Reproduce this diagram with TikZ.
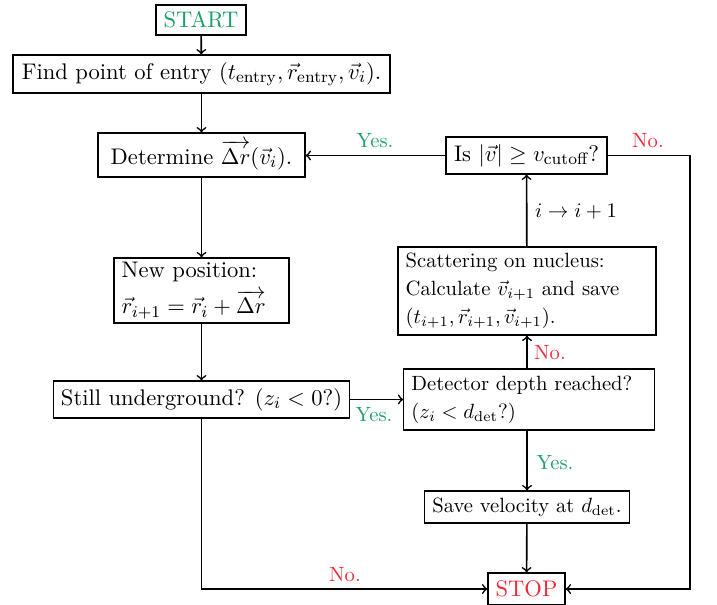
\documentclass[tikz,border=0pt]{standalone}
\usepackage{amsmath}
\definecolor{yesgreen}{RGB}{28,160,100}
\definecolor{nored}{RGB}{240,40,55}
\begin{document}
\begin{tikzpicture}[x=0.485pt,y=-0.485pt,
  every node/.style={font={\fontsize{10.95pt}{13.6pt}\selectfont}},
  small/.style={font={\fontsize{10pt}{13.6pt}\selectfont}},
  box/.style={draw,semithick,inner xsep=3.7pt,inner ysep=2pt},
  multibox/.style={box,align=left},
  arr/.style={->,thick},
  yeslbl/.style={text=yesgreen,font={\fontsize{10pt}{12pt}\selectfont},inner sep=1pt},
  nolbl/.style={text=nored,font={\fontsize{10pt}{12pt}\selectfont},inner sep=1pt}]
\useasboundingbox (0,0) rectangle (717,605);
\node[box,text=yesgreen,minimum width=42.7pt,minimum height=14.6pt] (start) at (201,20) {START};
\node[box,minimum width=182.8pt,minimum height=18.4pt] (find) at (201.5,74) {Find point of entry $(t_{\text{entry}},\vec{r}_{\text{entry}},\vec{v}_i)$.};
\node[box,minimum width=100.4pt,minimum height=21.3pt] (det) at (201.5,155) {Determine $\overrightarrow{\Delta r}(\vec{v}_i)$.};
\node[box,minimum width=78.1pt,minimum height=17.9pt] (is) at (526.5,155.5) {Is $|\vec{v}|\geq v_{\text{cutoff}}$?};
\node[multibox,small,text width=117.7pt,minimum height=42.7pt] (scat) at (527,291) {Scattering on nucleus:\\ Calculate $\vec{v}_{i+1}$ and save\\ $(t_{i+1},\vec{r}_{i+1},\vec{v}_{i+1})$.};
\node[multibox,text width=77.5pt,minimum height=31.5pt] (new) at (201.5,290.5) {New position:\\[3pt] $\vec{r}_{i+1}=\vec{r}_i+\overrightarrow{\Delta r}$};
\node[box,minimum width=143.1pt,minimum height=17.9pt] (still) at (201.5,399.5) {Still underground? $(z_i<0?)$};
\node[multibox,small,text width=114pt,minimum height=29.6pt] (detr) at (529,399.5) {Detector depth reached?\\ $(z_i<d_{\text{det}}?)$};
\node[box,small,minimum width=99.4pt,minimum height=15.5pt] (save) at (527,507) {Save velocity at $d_{\text{det}}$.};
\node[box,text=nored,minimum width=37.3pt,minimum height=15.5pt] (stop) at (526.5,589) {STOP};
\coordinate (rc) at (690,155.5);

\draw[arr] (start) -- (find);
\draw[arr] (find) -- (det);
\draw[arr] (det) -- (new);
\draw[arr] (new) -- (still);
\draw[arr] (still) -- (still -| detr.west);
\draw[arr] (detr.north -| scat.south) -- (scat.south);
\draw[arr] (scat) -- (is);
\draw[arr] (is.west) -- (is.west -| det.east);
\draw[arr] (detr.south -| save.north) -- (save.north);
\draw[arr] (save) -- (stop);
\draw[arr] (still.south) |- (stop.west);
\draw[arr] (is.east) -- (rc) |- (stop.east);

\node[yeslbl] (l1) at (375,141) {Yes.};
\node[nolbl] (l2) at (648,141) {No.};
\node[small,inner sep=1pt] (l3) at (576,212) {$i\rightarrow i+1$};
\node[nolbl] (l4) at (550,353) {No.};
\node[yeslbl] (l5) at (374,415) {Yes.};
\node[yeslbl] (l6) at (555,463) {Yes.};
\node[nolbl] (l7) at (345,575) {No.};
\end{tikzpicture}
\end{document}
